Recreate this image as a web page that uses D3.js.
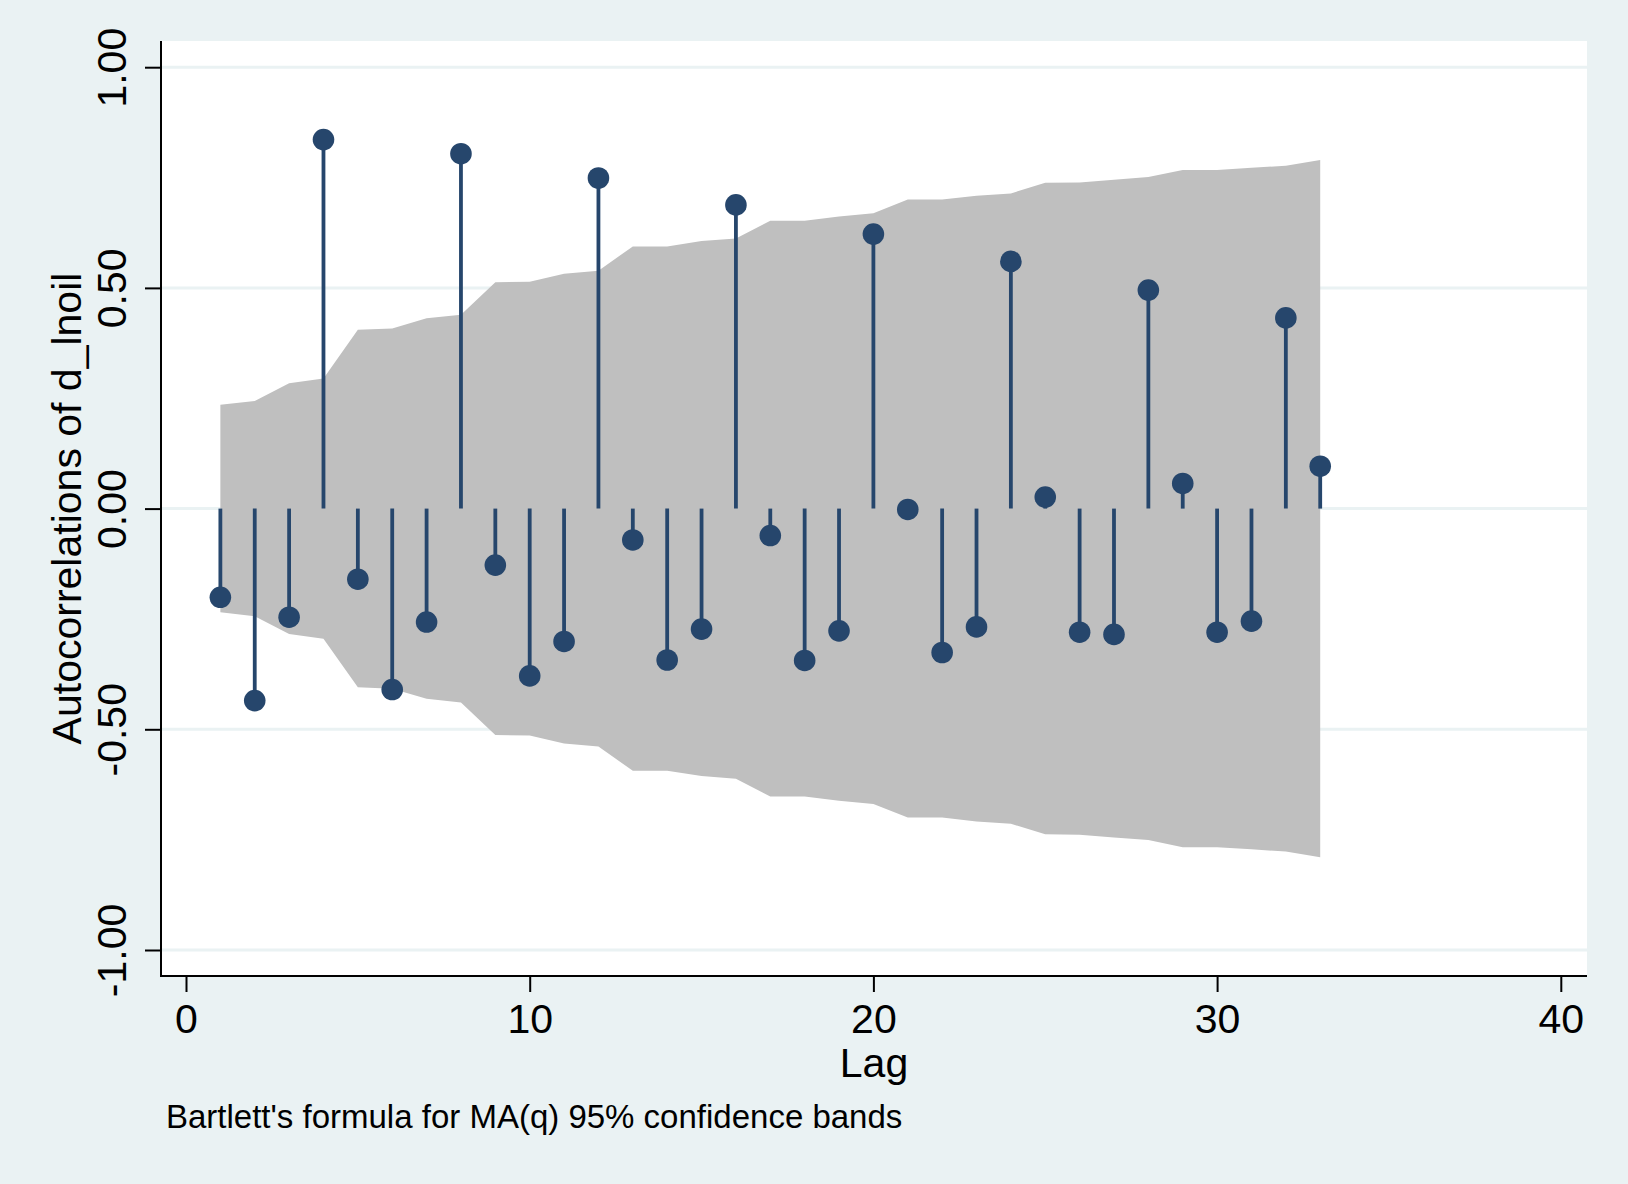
<!DOCTYPE html>
<html>
<head>
<meta charset="utf-8">
<script src="https://cdn.jsdelivr.net/npm/d3@7"></script>
<style>
  html, body { margin: 0; padding: 0; background: #eaf2f3; }
  svg { display: block; }
  text { font-family: "Liberation Sans", Arial, Helvetica, sans-serif; fill: #000; }
</style>
</head>
<body>
<svg id="chart" width="1628" height="1184"></svg>
<script>
// Lags 1..33
const lags = d3.range(1, 34);
// Autocorrelations of d_lnoil
const acf = [-0.201, -0.435, -0.246, 0.836, -0.160, -0.410, -0.257, 0.804, -0.128, -0.379,
             -0.301, 0.749, -0.071, -0.343, -0.273, 0.688, -0.061, -0.344, -0.277, 0.622,
             -0.002, -0.326, -0.268, 0.560, 0.026, -0.280, -0.285, 0.495, 0.057, -0.280,
             -0.255, 0.432, 0.096];
// Bartlett 95% confidence band half-width
const band = [0.235, 0.244, 0.284, 0.295, 0.405, 0.408, 0.431, 0.439, 0.513, 0.514,
              0.532, 0.539, 0.594, 0.594, 0.606, 0.612, 0.652, 0.652, 0.662, 0.669,
              0.700, 0.700, 0.709, 0.714, 0.738, 0.739, 0.745, 0.751, 0.767, 0.767,
              0.772, 0.777, 0.790];
const xTicks = [0, 10, 20, 30, 40];
const yTicks = [-1, -0.5, 0, 0.5, 1];
const xTitle = "Lag";
const yTitle = "Autocorrelations of d_lnoil";
const note = "Bartlett's formula for MA(q) 95% confidence bands";

const svg = d3.select("#chart");
const region = {left: 161, right: 1587, top: 41, bottom: 976};

const x = d3.scaleLinear().domain([0, 40]).range([186, 1560.8]);
const y = d3.scaleLinear().domain([-1, 1]).range([950, 67.2]);

const fmtY = d => d3.format(".2f")(d).replace("\u2212", "-");

// plot region
svg.append("rect")
  .attr("x", region.left).attr("y", region.top)
  .attr("width", region.right - region.left).attr("height", region.bottom - region.top)
  .attr("fill", "#ffffff");

// gridlines
svg.append("g").selectAll("line").data(yTicks).join("line")
  .attr("x1", region.left).attr("x2", region.right)
  .attr("y1", d => y(d)).attr("y2", d => y(d))
  .attr("stroke", "#eaf2f3").attr("stroke-width", 3);

// confidence band
const bandData = lags.map((l, i) => ({lag: l, hw: band[i]}));
svg.append("path")
  .datum(bandData)
  .attr("fill", "#bfbfbf")
  .attr("d", d3.area().x(d => x(d.lag)).y0(d => y(-d.hw)).y1(d => y(d.hw)));

// stems
const pts = lags.map((l, i) => ({lag: l, v: acf[i]}));
const navy = "#26466c";
svg.append("g").selectAll("line").data(pts).join("line")
  .attr("x1", d => x(d.lag)).attr("x2", d => x(d.lag))
  .attr("y1", y(0)).attr("y2", d => y(d.v))
  .attr("stroke", navy).attr("stroke-width", 3.8);

svg.append("g").selectAll("circle").data(pts).join("circle")
  .attr("cx", d => x(d.lag)).attr("cy", d => y(d.v))
  .attr("r", 10.8).attr("fill", navy);

// y axis
const yAxis = svg.append("g")
  .attr("transform", `translate(${region.left},0)`)
  .call(d3.axisLeft(y).tickValues(yTicks).tickSize(16).tickFormat(fmtY));
yAxis.select(".domain").remove();
yAxis.selectAll(".tick line").attr("stroke", "#000").attr("stroke-width", 2);
yAxis.selectAll(".tick text")
  .attr("x", null).attr("dy", null).attr("y", null)
  .attr("text-anchor", "middle")
  .attr("transform", "translate(-35,0) rotate(-90)")
  .style("font-family", "'Liberation Sans', Arial, Helvetica, sans-serif")
  .style("font-size", "41px").attr("fill", "#000");
svg.append("line")
  .attr("x1", region.left).attr("x2", region.left)
  .attr("y1", region.top).attr("y2", region.bottom + 1)
  .attr("stroke", "#000").attr("stroke-width", 2);

// x axis
const xAxis = svg.append("g")
  .attr("transform", `translate(0,${region.bottom})`)
  .call(d3.axisBottom(x).tickValues(xTicks).tickSize(16).tickFormat(d3.format("d")));
xAxis.select(".domain").remove();
xAxis.selectAll(".tick line").attr("stroke", "#000").attr("stroke-width", 2);
xAxis.selectAll(".tick text")
  .attr("y", 57).attr("dy", null)
  .style("font-family", "'Liberation Sans', Arial, Helvetica, sans-serif")
  .style("font-size", "41px").attr("fill", "#000");
svg.append("line")
  .attr("x1", region.left - 1).attr("x2", region.right)
  .attr("y1", region.bottom).attr("y2", region.bottom)
  .attr("stroke", "#000").attr("stroke-width", 2);

// titles
svg.append("text")
  .attr("x", (region.left + region.right) / 2).attr("y", 1077)
  .attr("text-anchor", "middle").style("font-size", "41px")
  .text(xTitle);
svg.append("text")
  .attr("transform", `translate(81,${(region.top + region.bottom) / 2}) rotate(-90)`)
  .attr("text-anchor", "middle").style("font-size", "41px")
  .text(yTitle);
svg.append("text")
  .attr("x", 166).attr("y", 1128)
  .style("font-size", "33px")
  .text(note);
</script>
</body>
</html>
